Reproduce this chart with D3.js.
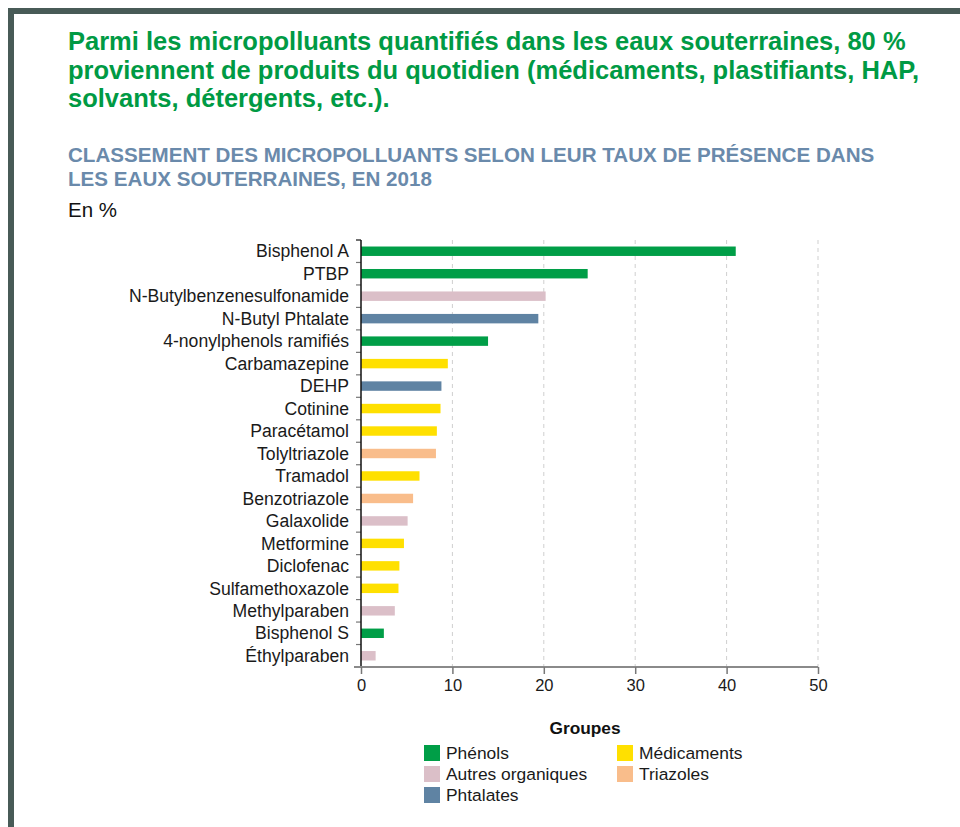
<!DOCTYPE html>
<html>
<head>
<meta charset="utf-8">
<title>Classement des micropolluants</title>
<script src="https://d3js.org/d3.v7.min.js"></script>
<style>
  body { margin: 0; background: #fff; }
  svg { display: block; font-family: "Liberation Sans", Arial, Helvetica, sans-serif; }
</style>
</head>
<body>
<svg id="chart" width="960" height="827"></svg>
<script>
// data
const titleLines = [
  "Parmi les micropolluants quantifiés dans les eaux souterraines, 80 %",
  "proviennent de produits du quotidien (médicaments, plastifiants, HAP,",
  "solvants, détergents, etc.)."
];
const subtitleLines = [
  "CLASSEMENT DES MICROPOLLUANTS SELON LEUR TAUX DE PRÉSENCE DANS",
  "LES EAUX SOUTERRAINES, EN 2018"
];
const unitLabel = "En %";

const substances = [
  "Bisphenol A", "PTBP", "N-Butylbenzenesulfonamide", "N-Butyl Phtalate",
  "4-nonylphenols ramifiés", "Carbamazepine", "DEHP", "Cotinine", "Paracétamol",
  "Tolyltriazole", "Tramadol", "Benzotriazole", "Galaxolide", "Metformine",
  "Diclofenac", "Sulfamethoxazole", "Methylparaben", "Bisphenol S", "Éthylparaben"
];
const rates = [41.0, 24.8, 20.2, 19.4, 13.9, 9.5, 8.8, 8.7, 8.3, 8.2, 6.4, 5.7, 5.1, 4.7, 4.2, 4.1, 3.7, 2.5, 1.6];
const groupOf = [
  "Phénols", "Phénols", "Autres organiques", "Phtalates", "Phénols", "Médicaments",
  "Phtalates", "Médicaments", "Médicaments", "Triazoles", "Médicaments", "Triazoles",
  "Autres organiques", "Médicaments", "Médicaments", "Médicaments", "Autres organiques",
  "Phénols", "Autres organiques"
];
const groups = ["Phénols", "Médicaments", "Autres organiques", "Triazoles", "Phtalates"];
const groupColors = ["#009e47", "#ffe000", "#dbbfc8", "#f9bd8b", "#5f83a3"];
const xTicks = [0, 10, 20, 30, 40, 50];

const svg = d3.select("#chart");

// frame
svg.append("path")
  .attr("d", "M11,827V11H960")
  .attr("fill", "none")
  .attr("stroke", "#485b57")
  .attr("stroke-width", 6);

// headline
svg.append("g").selectAll("text")
  .data(titleLines)
  .join("text")
  .attr("x", 68)
  .attr("y", (d, i) => 50 + i * 28.5)
  .attr("fill", "#009a44")
  .attr("font-size", 25.5)
  .attr("font-weight", "bold")
  .text(d => d);

svg.append("g").selectAll("text")
  .data(subtitleLines)
  .join("text")
  .attr("x", 68)
  .attr("y", (d, i) => 161.5 + i * 24.5)
  .attr("fill", "#6a8aab")
  .attr("font-size", 20.6)
  .attr("font-weight", "bold")
  .text(d => d);

svg.append("text")
  .attr("x", 68)
  .attr("y", 217)
  .attr("fill", "#111")
  .attr("font-size", 20.5)
  .text(unitLabel);

// scales
const x = d3.scaleLinear().domain([0, 50]).range([361, 818]);
const y = d3.scaleBand().domain(substances).range([240, 667])
  .paddingInner(0.58).paddingOuter(0.29);
const color = d3.scaleOrdinal().domain(groups).range(groupColors);

// grid
svg.append("g").selectAll("line")
  .data(xTicks.slice(1))
  .join("line")
  .attr("x1", d => x(d)).attr("x2", d => x(d))
  .attr("y1", 240).attr("y2", 667)
  .attr("stroke", "#cfcfcf")
  .attr("stroke-width", 1)
  .attr("stroke-dasharray", "4,4");

// bars
svg.append("g").selectAll("rect")
  .data(substances)
  .join("rect")
  .attr("x", x(0))
  .attr("y", d => y(d))
  .attr("width", (d, i) => x(rates[i]) - x(0))
  .attr("height", y.bandwidth())
  .attr("fill", (d, i) => color(groupOf[i]));

// y axis: ticks sit between categories
const yTickPos = d3.range(substances.length + 1).map(k => 240 + k * (427 / substances.length));
svg.append("g").selectAll("line")
  .data(yTickPos)
  .join("line")
  .attr("x1", x(0) - 5).attr("x2", x(0))
  .attr("y1", d => d).attr("y2", d => d)
  .attr("stroke", (d, i) => i === 0 ? "#111" : "#777")
  .attr("stroke-width", 1.2);

svg.append("g").selectAll("text")
  .data(substances)
  .join("text")
  .attr("x", 349)
  .attr("y", d => y(d) + y.bandwidth() / 2)
  .attr("dy", "0.35em")
  .attr("text-anchor", "end")
  .attr("fill", "#1a1a1a")
  .attr("font-size", 17.6)
  .text(d => d);

svg.append("line")
  .attr("x1", x(0)).attr("x2", x(0))
  .attr("y1", 240).attr("y2", 667)
  .attr("stroke", "#111")
  .attr("stroke-width", 1.5);

// x axis
const xAxis = svg.append("g")
  .attr("transform", "translate(0,667)")
  .call(d3.axisBottom(x).tickValues(xTicks).tickSize(7).tickPadding(5).tickSizeOuter(0));
xAxis.select(".domain")
  .attr("d", `M${x(0) - 7},0H${x(50)}`)
  .attr("stroke", "#8a8a8a")
  .attr("stroke-width", 2);
xAxis.selectAll(".tick line").attr("stroke", "#777").attr("stroke-width", 1.5);
xAxis.selectAll(".tick text")
  .attr("fill", "#1a1a1a")
  .attr("font-size", 16.5)
  .attr("font-family", "'Liberation Sans', Arial, sans-serif");

// legend
svg.append("text")
  .attr("x", 585)
  .attr("y", 734)
  .attr("text-anchor", "middle")
  .attr("font-size", 17.3)
  .attr("font-weight", "bold")
  .attr("fill", "#111")
  .text("Groupes");

const legend = svg.append("g").selectAll("g")
  .data(groups)
  .join("g")
  .attr("transform", (d, i) => `translate(${i % 2 === 0 ? 424 : 617},${745 + Math.floor(i / 2) * 21})`);
legend.append("rect")
  .attr("width", 16).attr("height", 16)
  .attr("fill", d => color(d));
legend.append("text")
  .attr("x", 22)
  .attr("y", 8)
  .attr("dy", "0.36em")
  .attr("font-size", 17.4)
  .attr("fill", "#1a1a1a")
  .text(d => d);
</script>
</body>
</html>
